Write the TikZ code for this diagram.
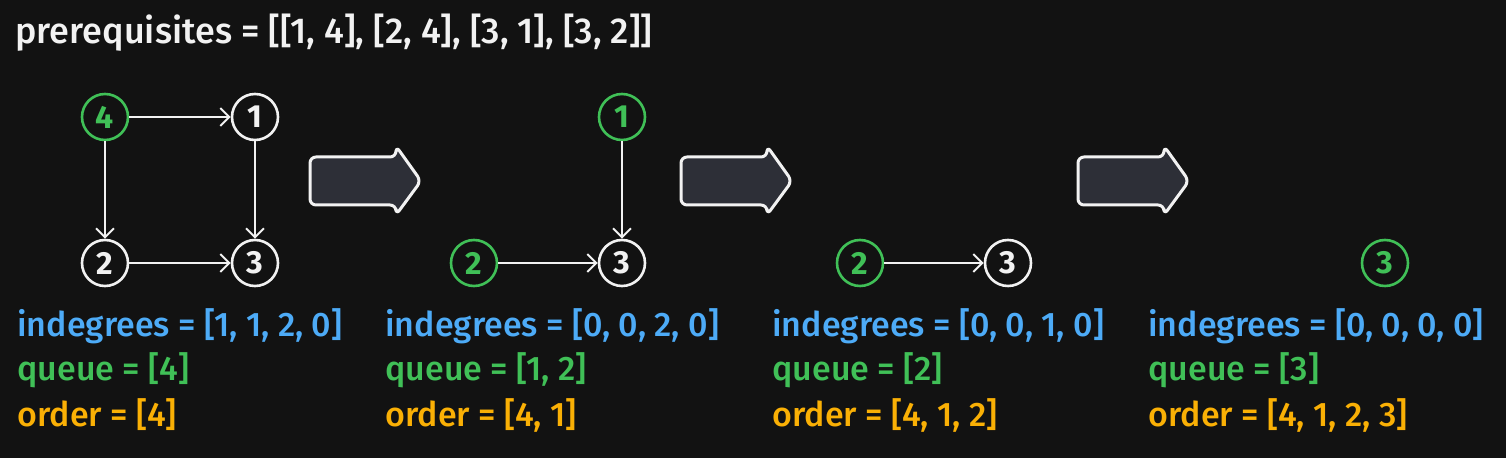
\documentclass[tikz,border=0pt]{standalone}
\usepackage{fontspec}
\setmainfont{Fira Sans}
\newfontfamily\handfont{Fira Sans Medium}
\usetikzlibrary{arrows.meta}
\definecolor{bg}{HTML}{121212}
\definecolor{grn}{HTML}{40C057}
\definecolor{blu}{HTML}{4DABF7}
\definecolor{org}{HTML}{FAB005}
\definecolor{wht}{HTML}{F2F2F2}
\definecolor{arrfill}{HTML}{2D2F37}
\begin{document}
\begin{tikzpicture}[x=0.5pt, y=-0.5pt, font=\fontsize{17}{20}\selectfont\handfont,
    vert/.style={circle, draw=wht, line width=1.3pt, minimum size=23pt, inner sep=0pt, text=wht, font=\fontsize{16}{18}\selectfont\bfseries},
    start/.style={vert, draw=grn, text=grn},
    edge/.style={draw=wht, line width=1pt, -{Straight Barb[length=4.5pt, width=9pt]}},
    lbl/.style={anchor=base west, inner sep=0pt}]
    % Background
    \fill[bg] (0,0) rectangle (1506,458);

    % Title
    \node[lbl, text=wht, font=\fontsize{18}{22}\selectfont\handfont] (prereq) at (15,44) {prerequisites = [[1, 4], [2, 4], [3, 1], [3, 2]]};

    % Graph 1
    \node[start] (g1n4) at (105,117) {4};
    \node[vert] (g1n1) at (255,117) {1};
    \node[vert] (g1n2) at (105,263) {2};
    \node[vert] (g1n3) at (255,263) {3};
    \draw[edge] (g1n4) -- (g1n1);
    \draw[edge] (g1n4) -- (g1n2);
    \draw[edge] (g1n1) -- (g1n3);
    \draw[edge] (g1n2) -- (g1n3);

    % Graph 2
    \node[start] (g2n1) at (622,117) {1};
    \node[start] (g2n2) at (474,263) {2};
    \node[vert] (g2n3) at (622,263) {3};
    \draw[edge] (g2n1) -- (g2n3);
    \draw[edge] (g2n2) -- (g2n3);

    % Graph 3
    \node[start] (g3n2) at (860,263) {2};
    \node[vert] (g3n3) at (1008,263) {3};
    \draw[edge] (g3n2) -- (g3n3);

    % Graph 4
    \node[start] (g4n3) at (1385,263) {3};

    % Big arrows
    \foreach \x in {310,681,1078} {
        \draw[wht, fill=arrfill, line width=1.5pt, rounded corners=3pt, line join=round]
            (\x,157) -- (\x+86,157) -- (\x+86,146) -- (\x+111,181)
            -- (\x+86,215) -- (\x+86,205) -- (\x,205) -- cycle;
    }

    % States
    \node[lbl, text=blu] (indeg1) at (17,337) {indegrees = [1, 1, 2, 0]};
    \node[lbl, text=grn] (queue1) at (17,381) {queue = [4]};
    \node[lbl, text=org] (order1) at (17,427) {order = [4]};

    \node[lbl, text=blu] (indeg2) at (385,337) {indegrees = [0, 0, 2, 0]};
    \node[lbl, text=grn] (queue2) at (385,381) {queue = [1, 2]};
    \node[lbl, text=org] (order2) at (385,427) {order = [4, 1]};

    \node[lbl, text=blu] (indeg3) at (772,337) {indegrees = [0, 0, 1, 0]};
    \node[lbl, text=grn] (queue3) at (772,381) {queue = [2]};
    \node[lbl, text=org] (order3) at (772,427) {order = [4, 1, 2]};

    \node[lbl, text=blu] (indeg4) at (1148,337) {indegrees = [0, 0, 0, 0]};
    \node[lbl, text=grn] (queue4) at (1148,381) {queue = [3]};
    \node[lbl, text=org] (order4) at (1148,427) {order = [4, 1, 2, 3]};
\end{tikzpicture}
\end{document}
